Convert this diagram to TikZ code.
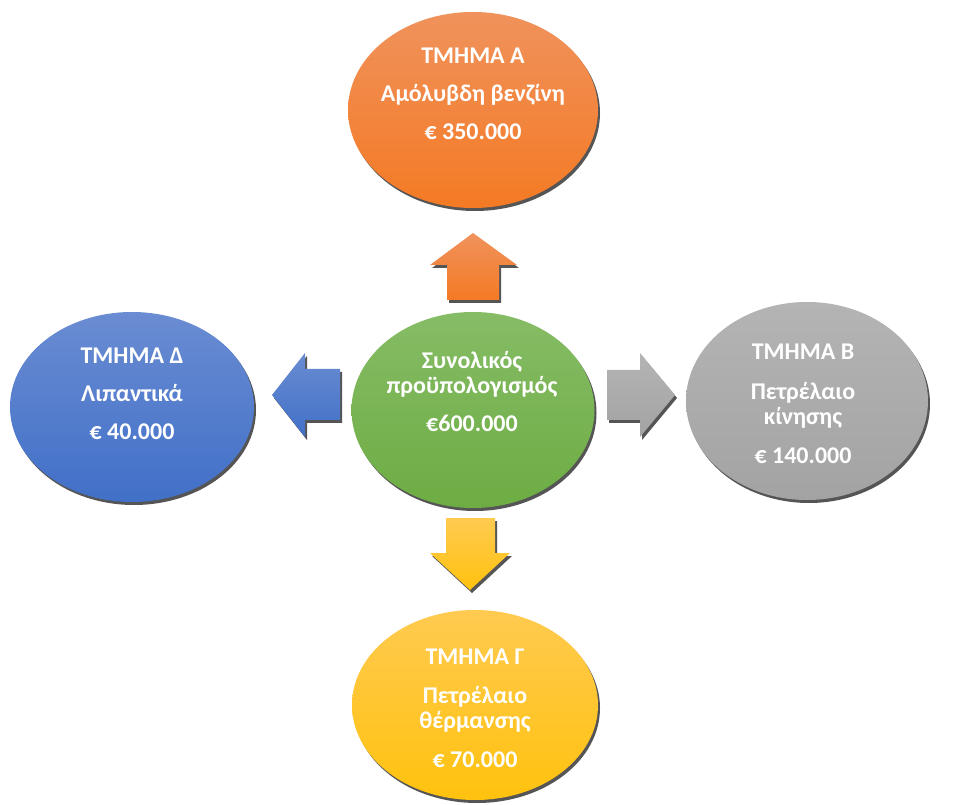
\documentclass[tikz,border=0pt]{standalone}
\usepackage{fontspec}
\setmainfont{Carlito}
\usetikzlibrary{shapes.geometric,shadows}
\definecolor{orT}{HTML}{F0925C}\definecolor{orB}{HTML}{F47A24}
\definecolor{blT}{HTML}{6A8CD2}\definecolor{blB}{HTML}{4170C8}
\definecolor{grT}{HTML}{86BC66}\definecolor{grB}{HTML}{6DAD43}
\definecolor{gyT}{HTML}{B4B4B4}\definecolor{gyB}{HTML}{A3A3A3}
\definecolor{yeT}{HTML}{FFCA50}\definecolor{yeB}{HTML}{FFC20E}
\definecolor{shd}{HTML}{555555}
\tikzset{
  sh/.style={drop shadow={shadow xshift=2pt,shadow yshift=-3pt,fill=shd,opacity=1}},
  blob/.style={ellipse,inner sep=0pt,sh},
  txt/.style={text=white,font=\bfseries\fontsize{24}{25}\selectfont,align=center,anchor=base,inner sep=0pt},
}
\begin{document}
\begin{tikzpicture}[x=1pt,y=1pt]
\useasboundingbox[fill=white] (0,0) rectangle (966,804);
% ellipses
\node[blob,top color=orT,bottom color=orB,minimum width=250pt,minimum height=196pt] (A) at (473,694) {};
\node[blob,top color=blT,bottom color=blB,minimum width=244pt,minimum height=190pt] (D) at (132,397) {};
\node[blob,top color=grT,bottom color=grB,minimum width=243pt,minimum height=196pt] (C) at (473,394) {};
\node[blob,top color=gyT,bottom color=gyB,minimum width=242pt,minimum height=198pt] (B) at (807,403) {};
\node[blob,top color=yeT,bottom color=yeB,minimum width=246pt,minimum height=190pt] (G) at (475,99) {};
% block arrows
\path[sh,top color=orT,bottom color=orB] (473,571) -- (517,539) -- (499,539) -- (499,504) -- (447,504) -- (447,539) -- (430,539) -- cycle;
\path[sh,top color=gyT,bottom color=gyB] (607,434) -- (640,434) -- (640,451) -- (675,409) -- (640,367) -- (640,384) -- (607,384) -- cycle;
\path[sh,top color=blT,bottom color=blB] (340,435) -- (305,435) -- (305,451) -- (272,409) -- (305,367) -- (305,384) -- (340,384) -- cycle;
\path[sh,top color=yeT,bottom color=yeB] (446,286) -- (495,286) -- (495,251) -- (510,251) -- (470,214) -- (430,251) -- (446,251) -- cycle;
% texts (anchor = baseline of last line)
\node[txt] (tA) at (473,664) {ΤΜΗΜΑ Α\\[13pt]Αμόλυβδη βενζίνη\\[13pt]€ 350.000};
\node[txt] (tD) at (132,364) {ΤΜΗΜΑ Δ\\[13pt]Λιπαντικά\\[13pt]€ 40.000};
\node[txt] (tC) at (472,372) {Συνολικός\\προϋπολογισμός\\[13pt]€600.000};
\node[txt] (tB) at (803,341) {ΤΜΗΜΑ Β\\[15pt]Πετρέλαιο\\κίνησης\\[14pt]€ 140.000};
\node[txt] (tG) at (475,37) {ΤΜΗΜΑ Γ\\[14pt]Πετρέλαιο\\θέρμανσης\\[14pt]€ 70.000};
\end{tikzpicture}
\end{document}
